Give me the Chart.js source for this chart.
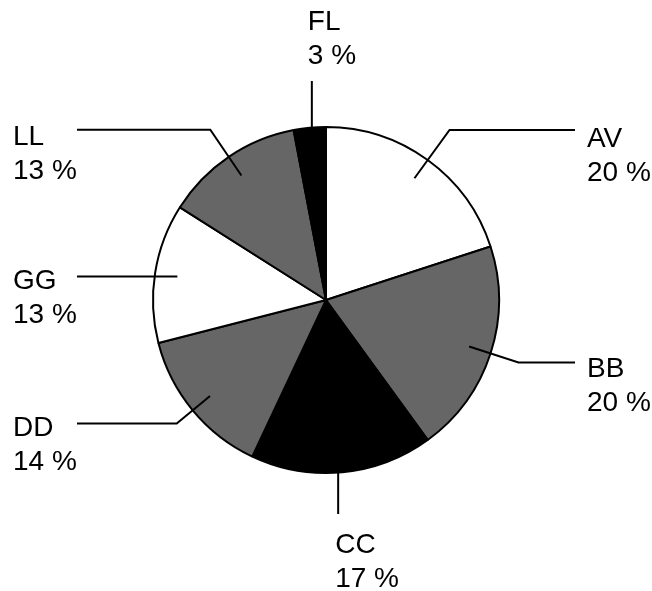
<!DOCTYPE html>
<html>
<head>
<meta charset="utf-8">
<title>Share by group</title>
<script src="https://cdn.jsdelivr.net/npm/chart.js@4.4.1/dist/chart.umd.min.js"></script>
<style>
  html, body { margin: 0; padding: 0; background: #ffffff; }
  #wrap { width: 652px; height: 591px; }
</style>
</head>
<body>
<div id="wrap"><canvas id="pie" width="652" height="591"></canvas></div>
<script>
// Slice data, clockwise from 12 o'clock
const categories = ['AV', 'BB', 'CC', 'DD', 'GG', 'LL', 'FL'];
const shares = [20, 20, 17, 14, 13, 13, 3];
const sliceColors = ['#ffffff', '#666666', '#000000', '#666666', '#ffffff', '#666666', '#000000'];

// Leader-line layout for each label: side of the pie, elbow radius as a share
// of the pie radius, and the baseline drop of the first text line below the leader
const leaderLayout = {
  AV: { side: 'right', elbow: 1.215, drop: 17 },
  BB: { side: 'right', elbow: 1.17, drop: 14 },
  CC: { side: 'bottom' },
  DD: { side: 'left', elbow: 1.12, drop: 12 },
  GG: { side: 'left', elbow: 0, drop: 13 },
  LL: { side: 'left', elbow: 1.19, drop: 15 },
  FL: { side: 'top' }
};

const FONT = '28px "Liberation Sans", Arial, sans-serif';
const LINE_H = 34;

const pieLabels = {
  id: 'pieLabels',
  afterDatasetsDraw(chart) {
    const ctx = chart.ctx;
    const meta = chart.getDatasetMeta(0);
    ctx.save();
    ctx.strokeStyle = '#000000';
    ctx.lineWidth = 2;
    ctx.fillStyle = '#000000';
    ctx.font = FONT;
    ctx.textBaseline = 'alphabetic';
    ctx.textAlign = 'left';
    meta.data.forEach((arc, i) => {
      const name = categories[i];
      const lay = leaderLayout[name];
      const p = arc.getProps(['x', 'y', 'startAngle', 'endAngle', 'outerRadius'], true);
      const mid = (p.startAngle + p.endAngle) / 2;
      const R = p.outerRadius;
      const cos = Math.cos(mid), sin = Math.sin(mid);
      const ix = p.x + cos * R * 0.87;
      const iy = p.y + sin * R * 0.87;
      const pct = shares[i] + ' %';
      ctx.beginPath();
      if (lay.side === 'top') {
        const topY = p.y - R - 46;
        ctx.moveTo(ix, iy);
        ctx.lineTo(ix, topY);
        ctx.stroke();
        const tx = ix - 4;
        ctx.fillText(name, tx, topY - 51);
        ctx.fillText(pct, tx, topY - 51 + LINE_H);
      } else if (lay.side === 'bottom') {
        const botY = p.y + R + 41;
        ctx.moveTo(ix - 2, iy);
        ctx.lineTo(ix - 2, botY);
        ctx.stroke();
        const tx = ix - 5;
        ctx.fillText(name, tx, botY + 39);
        ctx.fillText(pct, tx, botY + 39 + LINE_H);
      } else {
        ctx.moveTo(ix, iy);
        let ex = ix, ey = iy;
        if (lay.elbow > 0.87) {
          ex = p.x + cos * R * lay.elbow;
          ey = p.y + sin * R * lay.elbow;
          ctx.lineTo(ex, ey);
        }
        const endX = lay.side === 'right' ? p.x + 249 : p.x - 249;
        ctx.lineTo(endX, ey);
        ctx.stroke();
        const tx = lay.side === 'right' ? endX + 12 : 13;
        ctx.fillText(name, tx, ey + lay.drop);
        ctx.fillText(pct, tx, ey + lay.drop + LINE_H);
      }
    });
    ctx.restore();
  }
};

new Chart(document.getElementById('pie'), {
  type: 'pie',
  data: {
    labels: categories,
    datasets: [{
      data: shares,
      backgroundColor: sliceColors,
      borderColor: '#000000',
      borderWidth: 2,
      borderAlign: 'center'
    }]
  },
  options: {
    responsive: false,
    animation: false,
    layout: { padding: { left: 152, right: 152, top: 126, bottom: 117 } },
    plugins: {
      legend: { display: false },
      tooltip: { enabled: false }
    }
  },
  plugins: [pieLabels]
});
</script>
</body>
</html>
